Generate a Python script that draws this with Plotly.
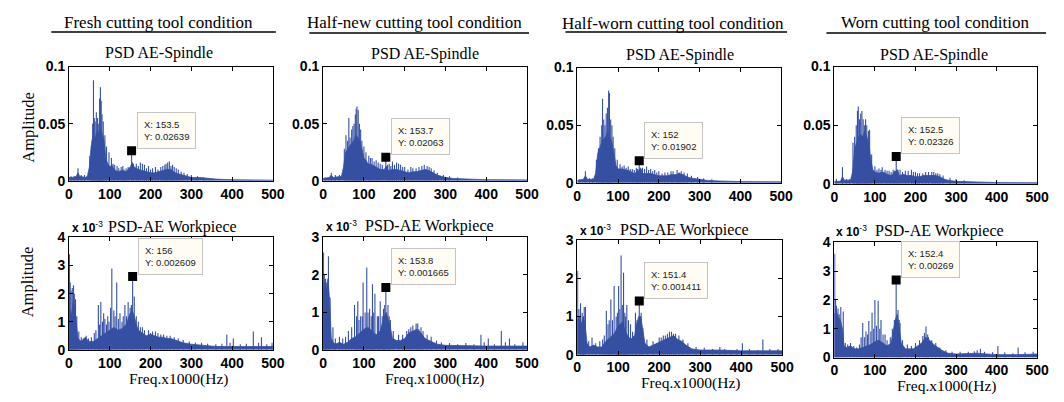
import plotly.graph_objects as go

W, H = 1064, 402

conditions = ["Fresh cutting tool condition", "Half-new cutting tool condition",
              "Half-worn cutting tool condition", "Worn cutting tool condition"]
freq_ticks = [0, 100, 200, 300, 400, 500]

# ---- AE spindle PSD (amplitude): dense body envelope + individual spectral lines ----
fresh_sp_floor_f = [0, 10, 18, 22, 26, 40, 45, 50, 53, 56, 60, 63, 66, 70, 74, 78, 82, 86, 90, 95, 100, 105, 110, 120, 130, 140, 150, 155, 160, 170, 180, 190, 200, 210, 220, 230, 240, 250, 260, 270, 280, 300, 320, 340, 360, 400, 450, 500]
fresh_sp_floor_a = [0.003, 0.003, 0.004, 0.007, 0.004, 0.003, 0.004, 0.012, 0.025, 0.035, 0.04, 0.036, 0.04, 0.045, 0.04, 0.045, 0.04, 0.035, 0.02, 0.015, 0.012, 0.014, 0.01, 0.008, 0.009, 0.008, 0.012, 0.016, 0.012, 0.01, 0.009, 0.008, 0.007, 0.007, 0.008, 0.009, 0.01, 0.01, 0.007, 0.006, 0.005, 0.003, 0.003, 0.002, 0.0015, 0.001, 0.0008, 0.0006]
fresh_sp_line_f = [5, 12, 22, 30, 38, 51, 55, 58, 60, 62, 64, 67, 70, 73, 75, 77, 79, 81, 84, 88, 92, 98, 104, 108, 112, 118, 122, 128, 132, 135, 140, 145, 153.5, 158, 165, 170, 175, 180, 185, 190, 195, 200, 205, 212, 218, 225, 230, 235, 238, 242, 246, 250, 254, 258, 263, 268, 275, 282, 290, 300, 315, 330]
fresh_sp_line_a = [0.004, 0.004, 0.011, 0.005, 0.005, 0.022, 0.031, 0.05, 0.088, 0.055, 0.052, 0.06, 0.055, 0.05, 0.072, 0.082, 0.07, 0.058, 0.052, 0.04, 0.03, 0.025, 0.02, 0.015, 0.014, 0.013, 0.011, 0.012, 0.013, 0.01, 0.011, 0.012, 0.02639, 0.015, 0.015, 0.013, 0.016, 0.015, 0.014, 0.011, 0.013, 0.01, 0.011, 0.012, 0.01, 0.012, 0.013, 0.014, 0.015, 0.016, 0.017, 0.013, 0.014, 0.012, 0.011, 0.01, 0.008, 0.007, 0.006, 0.005, 0.004, 0.003]

halfnew_sp_floor_f = [0, 15, 20, 25, 45, 50, 55, 60, 65, 70, 75, 80, 85, 90, 95, 100, 105, 110, 120, 130, 140, 150, 155, 160, 170, 180, 190, 200, 210, 220, 230, 240, 250, 260, 270, 280, 290, 300, 320, 350, 400, 500]
halfnew_sp_floor_a = [0.002, 0.003, 0.005, 0.003, 0.004, 0.012, 0.025, 0.028, 0.03, 0.033, 0.035, 0.04, 0.038, 0.035, 0.028, 0.02, 0.018, 0.015, 0.014, 0.012, 0.01, 0.01, 0.013, 0.009, 0.01, 0.01, 0.009, 0.008, 0.007, 0.008, 0.008, 0.009, 0.01, 0.009, 0.007, 0.005, 0.004, 0.003, 0.002, 0.0015, 0.001, 0.0008]
halfnew_sp_line_f = [5, 20, 30, 40, 52, 56, 60, 63, 66, 70, 73, 76, 79, 81, 83, 86, 89, 92, 95, 100, 105, 112, 116, 120, 125, 130, 135, 140, 145, 153.7, 158, 162, 166, 170, 175, 180, 185, 190, 195, 200, 208, 215, 220, 228, 235, 242, 248, 255, 260, 265, 272, 280, 295, 310, 330]
halfnew_sp_line_a = [0.003, 0.007, 0.005, 0.005, 0.028, 0.04, 0.035, 0.055, 0.038, 0.045, 0.048, 0.05, 0.058, 0.063, 0.065, 0.062, 0.05, 0.045, 0.035, 0.03, 0.025, 0.022, 0.02, 0.02, 0.017, 0.018, 0.016, 0.015, 0.014, 0.02063, 0.014, 0.015, 0.013, 0.017, 0.014, 0.016, 0.015, 0.014, 0.012, 0.012, 0.01, 0.012, 0.011, 0.011, 0.012, 0.013, 0.014, 0.013, 0.012, 0.011, 0.009, 0.007, 0.005, 0.004, 0.003]

halfworn_sp_floor_f = [0, 15, 20, 25, 40, 45, 50, 55, 60, 65, 70, 75, 80, 85, 90, 95, 100, 110, 120, 130, 140, 150, 155, 160, 170, 180, 190, 200, 210, 220, 230, 240, 250, 260, 270, 280, 300, 320, 350, 400, 500]
halfworn_sp_floor_a = [0.002, 0.003, 0.006, 0.003, 0.003, 0.008, 0.025, 0.03, 0.035, 0.038, 0.04, 0.045, 0.04, 0.035, 0.025, 0.015, 0.012, 0.012, 0.011, 0.01, 0.008, 0.01, 0.013, 0.008, 0.008, 0.008, 0.007, 0.006, 0.006, 0.006, 0.007, 0.007, 0.008, 0.007, 0.005, 0.004, 0.003, 0.002, 0.0015, 0.001, 0.0008]
halfworn_sp_line_f = [5, 20, 30, 38, 47, 52, 56, 60, 62, 65, 68, 71, 74, 77, 79, 82, 85, 88, 92, 98, 105, 110, 115, 120, 125, 130, 135, 140, 145, 148, 152, 156, 160, 165, 170, 175, 180, 185, 190, 195, 200, 208, 215, 222, 230, 235, 245, 250, 255, 262, 270, 280, 295, 310, 330]
halfworn_sp_line_a = [0.003, 0.01, 0.004, 0.004, 0.02, 0.03, 0.04, 0.05, 0.073, 0.055, 0.05, 0.06, 0.065, 0.08, 0.078, 0.055, 0.05, 0.04, 0.03, 0.02, 0.016, 0.014, 0.015, 0.013, 0.014, 0.012, 0.012, 0.011, 0.013, 0.012, 0.01902, 0.012, 0.013, 0.012, 0.014, 0.011, 0.012, 0.01, 0.011, 0.009, 0.01, 0.008, 0.009, 0.009, 0.01, 0.01, 0.011, 0.009, 0.01, 0.009, 0.008, 0.006, 0.005, 0.004, 0.003]

worn_sp_floor_f = [0, 15, 20, 25, 40, 45, 50, 55, 60, 65, 70, 75, 80, 85, 90, 95, 100, 110, 120, 130, 140, 150, 155, 160, 170, 180, 190, 200, 210, 220, 230, 240, 250, 260, 270, 280, 300, 350, 400, 500]
worn_sp_floor_a = [0.002, 0.002, 0.006, 0.003, 0.003, 0.01, 0.03, 0.035, 0.04, 0.042, 0.04, 0.045, 0.04, 0.035, 0.02, 0.012, 0.01, 0.009, 0.01, 0.008, 0.007, 0.01, 0.012, 0.007, 0.008, 0.007, 0.007, 0.006, 0.006, 0.007, 0.007, 0.007, 0.007, 0.006, 0.004, 0.003, 0.002, 0.0015, 0.001, 0.0008]
worn_sp_line_f = [5, 20, 30, 38, 46, 50, 54, 57, 59, 62, 65, 68, 71, 74, 77, 80, 84, 87, 92, 100, 105, 110, 115, 118, 125, 130, 135, 140, 145, 148, 152.5, 157, 162, 168, 175, 182, 190, 195, 200, 205, 210, 218, 225, 232, 240, 245, 250, 255, 260, 268, 285, 300, 320]
worn_sp_line_a = [0.004, 0.014, 0.004, 0.004, 0.035, 0.04, 0.05, 0.062, 0.066, 0.055, 0.06, 0.062, 0.055, 0.05, 0.055, 0.05, 0.045, 0.046, 0.025, 0.015, 0.012, 0.013, 0.012, 0.014, 0.012, 0.011, 0.011, 0.01, 0.012, 0.011, 0.02326, 0.012, 0.012, 0.01, 0.011, 0.011, 0.012, 0.01, 0.01, 0.009, 0.009, 0.009, 0.01, 0.01, 0.01, 0.01, 0.009, 0.009, 0.008, 0.007, 0.005, 0.004, 0.003]

# ---- AE workpiece PSD, amplitudes in units of 1e-3 ----
fresh_wp_floor_f = [0, 3, 6, 10, 14, 18, 22, 26, 30, 40, 45, 50, 60, 70, 80, 90, 100, 110, 120, 130, 140, 145, 150, 155, 160, 165, 170, 180, 190, 200, 210, 220, 230, 240, 250, 260, 270, 280, 300, 330, 360, 400, 450, 500]
fresh_wp_floor_a = [1.3, 1.4, 1.2, 1.7, 1.5, 1.0, 0.4, 0.35, 0.3, 0.45, 0.35, 0.3, 0.3, 0.4, 0.5, 0.6, 0.7, 0.8, 0.7, 0.75, 0.9, 1.1, 1.3, 1.4, 1.2, 0.9, 0.7, 0.6, 0.5, 0.55, 0.5, 0.45, 0.45, 0.4, 0.4, 0.35, 0.3, 0.25, 0.2, 0.15, 0.12, 0.12, 0.12, 0.12]
fresh_wp_line_f = [1, 3, 5, 8, 11, 13, 16, 19, 24, 30, 35, 42, 48, 55, 62, 66, 72, 75, 78, 82, 85, 88, 92, 95, 98, 102, 105, 110, 113, 117, 121, 125, 130, 133, 137, 141, 145, 150, 153, 156, 160, 165, 170, 175, 180, 185, 195, 200, 205, 212, 218, 225, 232, 240, 248, 258, 268, 280, 295, 310, 325, 340, 360, 375, 387, 395, 403, 420, 435, 452, 465, 472, 485, 498]
fresh_wp_line_a = [3.4, 2.4, 2.1, 2.2, 2.3, 2.0, 1.8, 1.2, 0.65, 0.45, 0.4, 0.5, 0.4, 0.45, 0.6, 0.7, 1.6, 0.9, 1.7, 1.0, 1.3, 1.1, 0.9, 1.2, 1.0, 1.5, 2.9, 1.4, 1.2, 2.4, 1.1, 1.3, 1.0, 1.2, 1.6, 1.2, 1.7, 1.5, 1.6, 2.609, 1.9, 1.2, 1.0, 0.8, 0.8, 0.7, 0.7, 0.6, 0.65, 0.65, 0.6, 0.55, 0.55, 0.5, 0.5, 0.45, 0.4, 0.35, 0.3, 0.25, 0.25, 0.22, 0.2, 0.22, 0.55, 0.25, 0.4, 0.2, 0.22, 0.65, 0.25, 0.45, 0.2, 0.25]

halfnew_wp_floor_f = [0, 4, 8, 12, 16, 20, 25, 30, 40, 50, 60, 70, 80, 90, 100, 110, 120, 130, 140, 145, 150, 155, 160, 165, 170, 180, 190, 200, 210, 220, 230, 240, 250, 260, 270, 280, 300, 350, 400, 450, 500]
halfnew_wp_floor_a = [1.5, 1.8, 1.6, 1.9, 1.3, 0.3, 0.2, 0.15, 0.2, 0.15, 0.2, 0.3, 0.35, 0.45, 0.55, 0.6, 0.5, 0.4, 0.5, 0.7, 0.9, 1.0, 0.8, 0.6, 0.3, 0.25, 0.25, 0.3, 0.45, 0.5, 0.55, 0.45, 0.3, 0.25, 0.2, 0.15, 0.12, 0.1, 0.1, 0.1, 0.1]
halfnew_wp_line_f = [1, 3, 6, 9, 13, 17, 24, 30, 40, 48, 55, 62, 70, 77, 82, 85, 88, 92, 96, 98, 103, 107, 110, 114, 118, 121, 124, 127, 133, 136, 140, 145, 148, 151, 153.8, 159, 162, 165, 172, 185, 195, 205, 210, 215, 220, 228, 232, 235, 240, 245, 255, 265, 278, 290, 310, 330, 350, 370, 387, 395, 405, 420, 437, 447, 457, 470, 490]
halfnew_wp_line_a = [2.6, 2.0, 1.9, 1.8, 2.5, 1.4, 0.6, 0.3, 0.35, 0.3, 0.35, 0.5, 0.6, 1.2, 0.9, 1.3, 0.8, 0.9, 0.9, 1.8, 1.0, 2.2, 1.0, 1.1, 0.9, 1.75, 1.0, 1.5, 0.9, 0.9, 1.3, 0.9, 1.1, 1.2, 1.665, 1.2, 0.9, 0.8, 0.5, 0.4, 0.4, 0.5, 0.55, 0.6, 0.65, 0.7, 0.7, 0.55, 0.6, 0.5, 0.4, 0.35, 0.25, 0.2, 0.18, 0.15, 0.18, 0.15, 0.4, 0.2, 0.3, 0.15, 0.5, 0.2, 0.3, 0.15, 0.2]

halfworn_wp_floor_f = [0, 5, 10, 15, 20, 24, 30, 40, 50, 60, 70, 80, 90, 100, 105, 110, 115, 120, 130, 140, 145, 150, 155, 160, 165, 175, 185, 195, 205, 215, 225, 235, 245, 255, 265, 280, 300, 350, 400, 450, 500]
halfworn_wp_floor_a = [0.9, 1.0, 0.8, 1.0, 0.7, 0.3, 0.2, 0.25, 0.2, 0.2, 0.35, 0.45, 0.55, 0.75, 0.8, 0.85, 0.7, 0.55, 0.4, 0.5, 0.8, 1.0, 1.0, 0.6, 0.3, 0.2, 0.25, 0.3, 0.35, 0.4, 0.45, 0.5, 0.4, 0.35, 0.25, 0.15, 0.12, 0.12, 0.1, 0.1, 0.1]
halfworn_wp_line_f = [1, 4, 8, 12, 15, 17, 20, 28, 36, 45, 55, 62, 66, 71, 75, 78, 82, 86, 90, 95, 98, 101, 104, 107, 110, 113, 116, 118, 121, 125, 130, 135, 142, 146, 151.4, 156, 160, 170, 185, 200, 205, 210, 215, 220, 225, 230, 235, 240, 248, 258, 270, 290, 310, 330, 348, 360, 375, 390, 403, 420, 440, 453, 470, 490]
halfworn_wp_line_a = [2.2, 1.2, 1.35, 1.1, 1.0, 1.25, 1.25, 0.35, 0.45, 0.3, 0.35, 0.4, 0.5, 1.15, 0.8, 0.9, 1.45, 0.9, 1.8, 1.0, 1.1, 1.8, 1.2, 2.6, 1.3, 2.15, 1.1, 1.0, 1.3, 0.9, 0.8, 0.6, 1.1, 0.9, 1.411, 1.1, 0.7, 0.4, 0.35, 0.45, 0.45, 0.5, 0.5, 0.55, 0.6, 0.6, 0.55, 0.55, 0.5, 0.4, 0.3, 0.2, 0.18, 0.15, 0.2, 0.15, 0.12, 0.15, 0.3, 0.15, 0.12, 0.4, 0.15, 0.15]

worn_wp_floor_f = [0, 5, 10, 15, 20, 24, 30, 40, 50, 60, 70, 80, 90, 100, 110, 120, 130, 140, 145, 150, 155, 160, 165, 175, 185, 195, 205, 215, 225, 235, 245, 255, 265, 280, 300, 350, 400, 450, 500]
worn_wp_floor_a = [1.5, 1.6, 1.4, 1.3, 1.0, 0.4, 0.35, 0.4, 0.3, 0.3, 0.35, 0.4, 0.45, 0.55, 0.6, 0.5, 0.4, 0.5, 0.9, 1.3, 1.5, 1.0, 0.5, 0.3, 0.3, 0.3, 0.4, 0.5, 0.7, 0.6, 0.45, 0.35, 0.25, 0.15, 0.12, 0.15, 0.1, 0.1, 0.12]
worn_wp_line_f = [1, 3, 5, 9, 12, 16, 22, 27, 33, 40, 48, 55, 62, 66, 70, 74, 78, 82, 85, 90, 93, 97, 100, 104, 108, 112, 115, 120, 125, 130, 138, 143, 148, 152.4, 157, 160, 162, 168, 180, 190, 200, 210, 218, 222, 226, 230, 232, 240, 250, 260, 275, 290, 310, 330, 345, 352, 360, 370, 390, 403, 420, 440, 453, 470, 490]
worn_wp_line_a = [3.6, 2.0, 1.8, 1.7, 1.5, 1.75, 1.6, 0.5, 0.45, 0.5, 0.4, 0.35, 0.45, 0.7, 1.2, 0.7, 0.9, 0.8, 1.27, 0.9, 1.55, 1.0, 2.0, 1.1, 1.97, 1.0, 1.3, 0.8, 0.8, 0.6, 0.7, 1.0, 1.3, 2.69, 1.65, 1.3, 1.2, 0.6, 0.45, 0.4, 0.5, 0.6, 0.75, 0.85, 1.08, 0.8, 0.7, 0.6, 0.5, 0.35, 0.25, 0.2, 0.2, 0.2, 0.22, 0.25, 0.3, 0.2, 0.18, 0.4, 0.18, 0.15, 0.35, 0.18, 0.2]

# ---- data cursor readouts ----
spindle_tip_x = [153.5, 153.7, 152, 152.5]
spindle_tip_y = [0.02639, 0.02063, 0.01902, 0.02326]
wp_tip_x = [156, 153.8, 151.4, 152.4]
wp_tip_y = [0.002609, 0.001665, 0.001411, 0.00269]
wp_ymax_e3 = [4, 3, 3, 4]

spindle = [
    (fresh_sp_floor_f, fresh_sp_floor_a, fresh_sp_line_f, fresh_sp_line_a),
    (halfnew_sp_floor_f, halfnew_sp_floor_a, halfnew_sp_line_f, halfnew_sp_line_a),
    (halfworn_sp_floor_f, halfworn_sp_floor_a, halfworn_sp_line_f, halfworn_sp_line_a),
    (worn_sp_floor_f, worn_sp_floor_a, worn_sp_line_f, worn_sp_line_a),
]
workpiece = [
    (fresh_wp_floor_f, fresh_wp_floor_a, fresh_wp_line_f, fresh_wp_line_a),
    (halfnew_wp_floor_f, halfnew_wp_floor_a, halfnew_wp_line_f, halfnew_wp_line_a),
    (halfworn_wp_floor_f, halfworn_wp_floor_a, halfworn_wp_line_f, halfworn_wp_line_a),
    (worn_wp_floor_f, worn_wp_floor_a, worn_wp_line_f, worn_wp_line_a),
]

# ---- layout geometry (pixels: left, right, top, bottom) ----
top_rects = [(66, 273, 61, 180), (324, 531, 61, 180), (582, 789, 62, 182), (843, 1049, 61, 183)]
bot_rects = [(66, 273, 239, 356), (324, 531, 239, 356), (582, 790, 242, 361), (843, 1049, 244, 364)]
header_x = [157, 417, 679, 945]
header_y = [15, 15, 16, 15]
rule_span = [(48, 276, 25), (310, 533, 26), (570, 795, 25), (835, 1058, 26)]
sp_title_x = [157, 427, 686, 944]
sp_title_y = [47, 48, 49, 49]
wp_exp_x = [67, 325, 583, 843]
wp_title_x = [104, 364, 623, 882]
wp_title_y = [228, 227, 231, 232]
freq_lbl_x = [177, 437, 697, 957]
freq_lbl_y = [386, 386, 391, 394]

BLUE = "#3550a2"
SERIF = "Liberation Serif, Times New Roman, serif"
SANS = "Liberation Sans, Arial, sans-serif"


def px(x):
    return x / W


def py(y):
    return 1 - y / H


fig = go.Figure()
layout = dict(width=W, height=H, margin=dict(l=0, r=0, t=0, b=0), autosize=False,
              paper_bgcolor="white", plot_bgcolor="white", showlegend=False)
annotations = []
shapes = []


def axis_common():
    return dict(showgrid=False, zeroline=False, showline=True, linecolor="black", linewidth=1,
                mirror="allticks", ticks="inside", ticklen=4, tickcolor="black",
                tickfont=dict(family=SANS, size=14, color="black", weight="bold"))


def spectrum(idx, floor_f, floor_a, line_f, line_a, scale):
    xa = "x" if idx == 1 else f"x{idx}"
    ya = "y" if idx == 1 else f"y{idx}"
    # individual spectral lines, drawn from zero up to each peak
    sx, sy = [], []
    for f, a in zip(line_f, line_a):
        sx += [f, f, None]
        sy += [0, a * scale, None]
    fig.add_trace(go.Scatter(x=sx, y=sy, mode="lines", line=dict(color=BLUE, width=1.1),
                             xaxis=xa, yaxis=ya, hoverinfo="skip"))
    # dense spectral body
    fig.add_trace(go.Scatter(x=floor_f, y=[v * scale for v in floor_a], mode="lines",
                             line=dict(color=BLUE, width=0.8), fill="tozeroy", fillcolor=BLUE,
                             xaxis=xa, yaxis=ya, hoverinfo="skip"))
    return xa, ya


def datatip(xa, ya, x, y):
    fig.add_trace(go.Scatter(x=[x], y=[y], mode="markers",
                             marker=dict(symbol="square", size=9, color="black"),
                             xaxis=xa, yaxis=ya, hoverinfo="skip"))
    annotations.append(dict(x=x, y=y, xref=xa, yref=ya, showarrow=False,
                            xanchor="left", yanchor="bottom", xshift=5, yshift=2,
                            text=f"X: {x:g}<br>Y: {y:.4g}", align="left",
                            font=dict(family=SANS, size=9.5, color="#222222"),
                            bgcolor="#fffcf3", bordercolor="#c4c4c4", borderwidth=1, borderpad=6))


for i in range(4):
    # spindle row
    idx = i + 1
    l, r, t, b = top_rects[i]
    ff, fa, lf, la = spindle[i]
    xa, ya = spectrum(idx, ff, fa, lf, la, 1.0)
    xk = "xaxis" if idx == 1 else f"xaxis{idx}"
    yk = "yaxis" if idx == 1 else f"yaxis{idx}"
    layout[xk] = dict(axis_common(), domain=[px(l), px(r)], range=[0, 500],
                      tickvals=freq_ticks, anchor=ya)
    layout[yk] = dict(axis_common(), domain=[py(b), py(t)], range=[0, 0.1],
                      tickvals=[0, 0.05, 0.1], ticktext=["0", "0.05", "0.1"], anchor=xa)
    datatip(xa, ya, spindle_tip_x[i], spindle_tip_y[i])

    # workpiece row
    idx = i + 5
    l, r, t, b = bot_rects[i]
    ff, fa, lf, la = workpiece[i]
    xa, ya = spectrum(idx, ff, fa, lf, la, 1e-3)
    xk, yk = f"xaxis{idx}", f"yaxis{idx}"
    ymax = wp_ymax_e3[i]
    layout[xk] = dict(axis_common(), domain=[px(l), px(r)], range=[0, 500],
                      tickvals=freq_ticks, anchor=ya)
    layout[yk] = dict(axis_common(), domain=[py(b), py(t)], range=[0, ymax * 1e-3],
                      tickvals=[k * 1e-3 for k in range(ymax + 1)],
                      ticktext=[str(k) for k in range(ymax + 1)], anchor=xa)
    datatip(xa, ya, wp_tip_x[i], wp_tip_y[i])

    # condition headers with underline
    annotations.append(dict(x=px(header_x[i]), y=py(header_y[i]), xref="paper", yref="paper",
                            text=conditions[i], showarrow=False, xanchor="center", yanchor="middle",
                            font=dict(family=SERIF, size=17, color="black")))
    x0, x1, yl = rule_span[i]
    shapes.append(dict(type="line", xref="paper", yref="paper", x0=px(x0), x1=px(x1),
                       y0=py(yl), y1=py(yl), line=dict(color="black", width=1.5)))
    # panel titles
    annotations.append(dict(x=px(sp_title_x[i]), y=py(sp_title_y[i]), xref="paper", yref="paper",
                            text="PSD AE-Spindle", showarrow=False, xanchor="center", yanchor="middle",
                            font=dict(family=SERIF, size=16, color="black")))
    annotations.append(dict(x=px(wp_exp_x[i]), y=py(wp_title_y[i]), xref="paper", yref="paper",
                            text="<b>x 10</b><sup>-3</sup>", showarrow=False, xanchor="left",
                            yanchor="middle", font=dict(family=SANS, size=12, color="black")))
    annotations.append(dict(x=px(wp_title_x[i]), y=py(wp_title_y[i]), xref="paper", yref="paper",
                            text="PSD-AE Workpiece", showarrow=False, xanchor="left", yanchor="middle",
                            font=dict(family=SERIF, size=16, color="black")))
    annotations.append(dict(x=px(freq_lbl_x[i]), y=py(freq_lbl_y[i]), xref="paper", yref="paper",
                            text="Freq.x1000(Hz)", showarrow=False, xanchor="center", yanchor="middle",
                            font=dict(family=SERIF, size=15.5, color="black")))

for yc in (124, 285):
    annotations.append(dict(x=px(24), y=py(yc), xref="paper", yref="paper", text="Amplitude",
                            showarrow=False, textangle=-90, xanchor="center", yanchor="middle",
                            font=dict(family=SERIF, size=16.5, color="black")))

layout["annotations"] = annotations
layout["shapes"] = shapes
fig.update_layout(**layout)
fig.write_html("out.html")
